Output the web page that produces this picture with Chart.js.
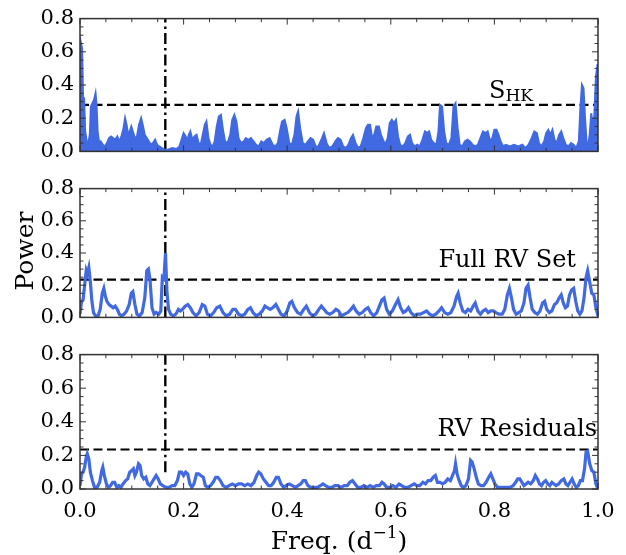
<!DOCTYPE html>
<html>
<head>
<meta charset="utf-8">
<script src="https://cdn.jsdelivr.net/npm/chart.js@4.4.1/dist/chart.umd.min.js"></script>
<style>
  body { margin: 0; background: #fff; }
  #wrap { position: relative; width: 626px; height: 555px; }
  canvas { position: absolute; left: 0; }
</style>
</head>
<body>
<div id="wrap">
  <canvas id="p1" width="626" height="170" style="top:0px"></canvas>
  <canvas id="p2" width="626" height="166" style="top:170px"></canvas>
  <canvas id="p3" width="626" height="219" style="top:336px"></canvas>
</div>
<script>
// S_HK periodogram
const shkFreq = [0.000,0.002,0.004,0.006,0.008,0.010,0.013,0.016,0.019,0.021,0.024,0.027,0.030,0.032,0.034,0.037,0.040,0.044,0.048,0.052,
  0.056,0.060,0.064,0.068,0.072,0.076,0.080,0.084,0.087,0.090,0.093,0.096,0.099,0.102,0.106,0.110,0.114,0.118,0.121,0.125,
  0.129,0.133,0.137,0.141,0.145,0.149,0.153,0.158,0.163,0.170,0.178,0.186,0.192,0.196,0.200,0.204,0.207,0.210,0.213,0.217,
  0.221,0.225,0.229,0.233,0.237,0.241,0.244,0.248,0.252,0.256,0.260,0.264,0.268,0.272,0.276,0.280,0.285,0.290,0.294,0.298,
  0.302,0.306,0.311,0.316,0.320,0.325,0.330,0.335,0.340,0.345,0.350,0.355,0.360,0.366,0.372,0.377,0.382,0.386,0.390,0.395,
  0.399,0.404,0.409,0.414,0.418,0.421,0.425,0.430,0.435,0.440,0.445,0.450,0.455,0.460,0.466,0.471,0.476,0.481,0.487,0.493,
  0.498,0.503,0.508,0.513,0.518,0.523,0.527,0.532,0.537,0.542,0.547,0.552,0.556,0.560,0.564,0.568,0.572,0.577,0.581,0.585,
  0.589,0.594,0.598,0.602,0.606,0.610,0.614,0.618,0.623,0.628,0.633,0.637,0.641,0.646,0.651,0.656,0.661,0.666,0.670,0.674,
  0.678,0.683,0.688,0.692,0.695,0.699,0.703,0.707,0.712,0.717,0.721,0.725,0.729,0.733,0.738,0.743,0.748,0.753,0.758,0.763,
  0.768,0.773,0.778,0.783,0.787,0.792,0.796,0.800,0.804,0.808,0.812,0.817,0.822,0.830,0.838,0.846,0.854,0.860,0.866,0.872,
  0.877,0.882,0.886,0.891,0.896,0.900,0.904,0.908,0.912,0.916,0.920,0.925,0.929,0.933,0.938,0.943,0.948,0.953,0.958,0.963,
  0.966,0.969,0.972,0.975,0.978,0.981,0.984,0.987,0.990,0.993,0.996,0.999,1.000];
const shkPower = [0.05,0.65,0.62,0.30,0.31,0.12,0.06,0.05,0.10,0.27,0.29,0.31,0.35,0.28,0.12,0.05,0.06,0.04,0.03,0.05,
  0.08,0.09,0.08,0.07,0.09,0.06,0.09,0.14,0.20,0.16,0.10,0.12,0.15,0.12,0.08,0.09,0.16,0.20,0.16,0.10,
  0.08,0.06,0.04,0.05,0.07,0.04,0.03,0.02,0.01,0.01,0.02,0.015,0.03,0.07,0.11,0.09,0.06,0.10,0.12,0.07,
  0.09,0.10,0.05,0.04,0.10,0.16,0.18,0.08,0.04,0.03,0.06,0.15,0.21,0.22,0.13,0.06,0.05,0.10,0.19,0.22,
  0.18,0.08,0.05,0.06,0.08,0.07,0.08,0.06,0.04,0.03,0.06,0.05,0.07,0.08,0.04,0.03,0.05,0.12,0.18,0.19,
  0.14,0.05,0.04,0.10,0.21,0.24,0.14,0.05,0.04,0.06,0.08,0.07,0.03,0.03,0.07,0.11,0.05,0.02,0.03,0.06,
  0.08,0.07,0.03,0.02,0.04,0.08,0.10,0.05,0.02,0.03,0.08,0.14,0.16,0.16,0.08,0.10,0.15,0.15,0.10,0.07,
  0.04,0.08,0.17,0.19,0.17,0.19,0.09,0.04,0.03,0.05,0.09,0.10,0.05,0.03,0.04,0.03,0.07,0.12,0.11,0.12,
  0.07,0.05,0.04,0.12,0.28,0.27,0.12,0.05,0.04,0.08,0.27,0.29,0.14,0.04,0.03,0.06,0.07,0.06,0.04,0.03,
  0.04,0.08,0.12,0.11,0.12,0.06,0.08,0.13,0.13,0.10,0.06,0.03,0.04,0.03,0.04,0.03,0.04,0.02,0.04,0.08,
  0.12,0.11,0.05,0.03,0.06,0.11,0.13,0.10,0.13,0.07,0.05,0.10,0.12,0.08,0.04,0.03,0.05,0.04,0.02,0.06,
  0.26,0.40,0.38,0.20,0.05,0.04,0.10,0.23,0.14,0.22,0.45,0.52,0.52];

// full RV set periodogram
const rvFreq = [0.000,0.003,0.006,0.009,0.012,0.014,0.017,0.020,0.023,0.026,0.030,0.035,0.039,0.043,0.046,0.049,0.052,0.056,0.060,0.064,
  0.068,0.072,0.076,0.080,0.085,0.090,0.095,0.099,0.102,0.106,0.110,0.115,0.120,0.125,0.129,0.132,0.135,0.139,0.143,0.147,
  0.152,0.156,0.159,0.162,0.165,0.168,0.171,0.175,0.180,0.185,0.190,0.194,0.198,0.203,0.208,0.213,0.218,0.224,0.230,0.236,
  0.241,0.246,0.252,0.258,0.264,0.270,0.276,0.282,0.289,0.295,0.300,0.306,0.312,0.318,0.324,0.329,0.334,0.340,0.346,0.352,
  0.357,0.362,0.367,0.372,0.378,0.383,0.388,0.394,0.400,0.405,0.409,0.414,0.420,0.426,0.432,0.437,0.443,0.449,0.455,0.461,
  0.466,0.471,0.476,0.482,0.488,0.494,0.499,0.505,0.511,0.517,0.523,0.528,0.533,0.539,0.545,0.551,0.556,0.561,0.567,0.573,
  0.578,0.583,0.587,0.592,0.597,0.603,0.609,0.614,0.619,0.624,0.629,0.634,0.639,0.645,0.651,0.657,0.663,0.669,0.675,0.681,
  0.687,0.693,0.698,0.704,0.710,0.716,0.722,0.727,0.730,0.734,0.739,0.744,0.749,0.754,0.759,0.763,0.768,0.773,0.778,0.783,
  0.788,0.793,0.798,0.803,0.809,0.815,0.820,0.825,0.829,0.833,0.837,0.842,0.847,0.852,0.857,0.861,0.865,0.869,0.873,0.878,
  0.883,0.888,0.893,0.897,0.901,0.906,0.911,0.916,0.920,0.925,0.929,0.933,0.937,0.941,0.945,0.949,0.953,0.957,0.961,0.965,
  0.969,0.973,0.977,0.980,0.984,0.988,0.992,0.996,1.000];
const rvPower = [0.02,0.10,0.11,0.20,0.29,0.27,0.31,0.22,0.10,0.03,0.01,0.01,0.05,0.15,0.18,0.13,0.10,0.08,0.07,0.06,
  0.07,0.05,0.02,0.01,0.02,0.04,0.08,0.15,0.16,0.08,0.02,0.01,0.03,0.12,0.29,0.30,0.24,0.06,0.02,0.03,
  0.02,0.04,0.25,0.24,0.40,0.15,0.05,0.02,0.01,0.02,0.05,0.04,0.05,0.07,0.08,0.06,0.03,0.01,0.03,0.08,
  0.07,0.02,0.01,0.03,0.06,0.07,0.03,0.01,0.02,0.05,0.05,0.02,0.01,0.02,0.05,0.06,0.03,0.01,0.02,0.04,
  0.07,0.06,0.05,0.06,0.08,0.05,0.02,0.01,0.04,0.09,0.10,0.06,0.03,0.02,0.05,0.07,0.03,0.01,0.02,0.05,
  0.07,0.05,0.03,0.02,0.03,0.05,0.04,0.01,0.02,0.03,0.05,0.07,0.04,0.02,0.03,0.05,0.06,0.03,0.01,0.03,
  0.07,0.11,0.12,0.05,0.02,0.04,0.08,0.11,0.06,0.03,0.04,0.06,0.03,0.01,0.02,0.02,0.03,0.04,0.02,0.01,
  0.02,0.04,0.06,0.03,0.02,0.03,0.07,0.13,0.15,0.09,0.04,0.03,0.05,0.04,0.07,0.09,0.04,0.02,0.04,0.05,
  0.03,0.04,0.04,0.03,0.02,0.02,0.05,0.14,0.18,0.12,0.05,0.02,0.03,0.04,0.09,0.18,0.20,0.12,0.05,0.03,
  0.02,0.04,0.09,0.10,0.05,0.03,0.04,0.08,0.09,0.12,0.14,0.09,0.06,0.07,0.14,0.17,0.18,0.10,0.04,0.02,
  0.04,0.12,0.25,0.29,0.22,0.15,0.14,0.06,0.01];

// RV residuals periodogram
const resFreq = [0.000,0.003,0.006,0.009,0.012,0.014,0.017,0.020,0.024,0.028,0.033,0.038,0.042,0.044,0.047,0.051,0.055,0.059,0.063,0.067,
  0.071,0.075,0.079,0.083,0.088,0.092,0.096,0.100,0.103,0.106,0.109,0.113,0.116,0.119,0.123,0.127,0.131,0.135,0.139,0.143,
  0.147,0.151,0.155,0.160,0.166,0.172,0.178,0.183,0.188,0.192,0.196,0.200,0.204,0.208,0.212,0.216,0.220,0.225,0.229,0.233,
  0.238,0.242,0.247,0.252,0.257,0.262,0.266,0.271,0.276,0.282,0.288,0.294,0.300,0.306,0.312,0.318,0.324,0.330,0.336,0.341,
  0.345,0.349,0.354,0.359,0.364,0.369,0.374,0.379,0.383,0.388,0.393,0.398,0.404,0.410,0.416,0.421,0.426,0.431,0.435,0.440,
  0.446,0.452,0.458,0.464,0.469,0.474,0.480,0.486,0.492,0.498,0.504,0.510,0.516,0.521,0.526,0.531,0.536,0.542,0.548,0.554,
  0.560,0.566,0.572,0.578,0.583,0.587,0.592,0.598,0.604,0.610,0.616,0.621,0.627,0.633,0.639,0.645,0.650,0.656,0.662,0.667,
  0.672,0.677,0.682,0.686,0.690,0.695,0.700,0.705,0.710,0.715,0.719,0.723,0.725,0.728,0.732,0.736,0.740,0.745,0.750,0.754,
  0.757,0.761,0.765,0.769,0.774,0.779,0.784,0.789,0.793,0.797,0.801,0.806,0.812,0.818,0.824,0.830,0.836,0.841,0.845,0.849,
  0.853,0.857,0.861,0.865,0.870,0.875,0.879,0.883,0.887,0.891,0.895,0.899,0.903,0.907,0.911,0.915,0.919,0.924,0.929,0.934,
  0.938,0.942,0.946,0.950,0.954,0.958,0.962,0.966,0.970,0.974,0.977,0.980,0.984,0.988,0.992,0.996,1.000];
const resPower = [0.02,0.09,0.10,0.13,0.19,0.21,0.18,0.10,0.05,0.01,0.01,0.04,0.11,0.13,0.08,0.03,0.01,0.02,0.04,0.04,
  0.01,0.02,0.01,0.03,0.05,0.06,0.10,0.11,0.12,0.08,0.10,0.15,0.14,0.08,0.06,0.07,0.03,0.02,0.04,0.06,
  0.08,0.06,0.03,0.02,0.01,0.01,0.02,0.02,0.05,0.10,0.10,0.08,0.10,0.09,0.03,0.01,0.03,0.09,0.09,0.08,
  0.07,0.02,0.01,0.02,0.04,0.07,0.07,0.05,0.02,0.01,0.02,0.03,0.02,0.03,0.03,0.02,0.03,0.02,0.04,0.08,
  0.10,0.09,0.06,0.04,0.02,0.02,0.04,0.07,0.07,0.03,0.01,0.02,0.03,0.02,0.01,0.02,0.03,0.05,0.05,0.02,
  0.01,0.01,0.01,0.02,0.03,0.02,0.01,0.01,0.02,0.02,0.01,0.02,0.02,0.04,0.05,0.03,0.01,0.01,0.02,0.01,
  0.02,0.01,0.02,0.02,0.04,0.03,0.01,0.01,0.02,0.01,0.03,0.02,0.01,0.01,0.02,0.03,0.02,0.02,0.04,0.03,
  0.05,0.05,0.07,0.08,0.04,0.04,0.03,0.04,0.06,0.05,0.08,0.11,0.15,0.09,0.05,0.02,0.01,0.02,0.06,0.17,
  0.16,0.12,0.07,0.03,0.02,0.02,0.04,0.07,0.09,0.06,0.03,0.01,0.01,0.01,0.01,0.01,0.02,0.04,0.06,0.06,
  0.04,0.02,0.03,0.04,0.03,0.05,0.08,0.06,0.03,0.02,0.04,0.05,0.03,0.02,0.04,0.03,0.02,0.03,0.05,0.06,
  0.03,0.02,0.04,0.06,0.03,0.01,0.02,0.05,0.05,0.12,0.22,0.225,0.15,0.11,0.10,0.03,0.00];

// significance thresholds and the marked frequency
const thresholds = [0.28, 0.235, 0.235];
const markFreq = 0.1647;
const markBottom = [0, 0, 0.1];
const yTicks = [0, 0.2, 0.4, 0.6, 0.8];
const xTicks = [0, 0.2, 0.4, 0.6, 0.8, 1.0];

const FONT = '"DejaVu Serif", serif';
const BLUE = '#4169e1';

function drawRuns(ctx, t) {
  ctx.save();
  let w = 0;
  t.runs.forEach(r => {
    ctx.font = r.size + 'px ' + FONT;
    r.w = ctx.measureText(r.s).width;
    w += r.w;
  });
  ctx.translate(t.x, t.y);
  if (t.rotate) ctx.rotate(t.rotate);
  let cx = t.align === 'center' ? -w / 2 : t.align === 'right' ? -w : 0;
  ctx.fillStyle = '#000';
  ctx.textAlign = 'left';
  ctx.textBaseline = 'alphabetic';
  t.runs.forEach(r => {
    ctx.font = r.size + 'px ' + FONT;
    ctx.fillText(r.s, cx, r.dy || 0);
    cx += r.w;
  });
  ctx.restore();
}

const framePlugin = {
  id: 'frame',
  afterDatasetsDraw(chart, args, opts) {
    const { ctx, chartArea: a, scales: { x, y } } = chart;
    ctx.save();
    ctx.strokeStyle = '#333';
    ctx.lineWidth = 1;
    ctx.beginPath();
    for (let i = 0; i <= 20; i++) {
      const px = x.getPixelForValue(i * 0.05);
      const len = i % 4 === 0 ? 6 : 3.5;
      ctx.moveTo(px, a.bottom); ctx.lineTo(px, a.bottom - len);
      ctx.moveTo(px, a.top); ctx.lineTo(px, a.top + len);
    }
    for (let i = 0; i <= 16; i++) {
      const py = y.getPixelForValue(i * 0.05);
      const len = i % 4 === 0 ? 6 : 3.5;
      ctx.moveTo(a.left, py); ctx.lineTo(a.left + len, py);
      ctx.moveTo(a.right, py); ctx.lineTo(a.right - len, py);
    }
    ctx.stroke();
    ctx.lineWidth = 1.5;
    ctx.strokeRect(a.left, a.top, a.right - a.left, a.bottom - a.top);
    ctx.restore();
    (opts.texts || []).forEach(t => drawRuns(ctx, t));
  }
};

function makePanel(id, idx, freq, power, cfg) {
  const pts = freq.map((f, i) => ({ x: f, y: power[i] }));
  const thr = thresholds[idx];
  new Chart(document.getElementById(id), {
    type: 'line',
    data: {
      datasets: [
        {
          data: pts, borderColor: BLUE, backgroundColor: BLUE,
          borderWidth: cfg.lineWidth, fill: cfg.fill ? 'origin' : false,
          pointRadius: 0, tension: 0, order: 0
        },
        {
          data: [{ x: 0, y: thr }, { x: 1, y: thr }], borderColor: '#000',
          borderWidth: 2.2, borderDash: [9, 4.5], pointRadius: 0, fill: false, order: 1
        },
        {
          data: [{ x: markFreq, y: markBottom[idx] }, { x: markFreq, y: 0.8 }], borderColor: '#000',
          borderWidth: 2.4, borderDash: [11, 4, 2.5, 4], pointRadius: 0, fill: false, order: 2
        }
      ]
    },
    options: {
      responsive: false,
      animation: false,
      events: [],
      layout: { padding: cfg.padding },
      plugins: { legend: { display: false }, tooltip: { enabled: false }, frame: { texts: cfg.texts } },
      scales: {
        x: {
          type: 'linear', min: 0, max: 1,
          display: cfg.showX,
          afterBuildTicks: s => { s.ticks = xTicks.map(v => ({ value: v })); },
          afterFit: s => { s.height = cfg.xHeight || 0; },
          grid: { display: false, drawTicks: false },
          border: { display: false },
          ticks: {
            autoSkip: false, maxRotation: 0, padding: 10, color: '#000',
            font: { family: FONT, size: 21 },
            callback: v => Number(v).toFixed(1)
          }
        },
        y: {
          min: 0, max: 0.8,
          afterBuildTicks: s => { s.ticks = yTicks.map(v => ({ value: v })); },
          afterFit: s => { s.width = 80; },
          grid: { display: false, drawTicks: false },
          border: { display: false },
          ticks: {
            padding: 6, color: '#000',
            font: { family: FONT, size: 21 },
            callback: v => Number(v).toFixed(1)
          }
        }
      }
    },
    plugins: [framePlugin]
  });
}

makePanel('p1', 0, shkFreq, shkPower, {
  lineWidth: 2, fill: true, showX: false,
  padding: { left: 0, right: 28, top: 15, bottom: 18 },
  texts: [{ x: 489, y: 98, align: 'left', runs: [{ s: 'S', size: 24 }, { s: 'HK', size: 17, dy: 3 }] }]
});

makePanel('p2', 1, rvFreq, rvPower, {
  lineWidth: 3.2, fill: false, showX: false,
  padding: { left: 0, right: 28, top: 14, bottom: 15 },
  texts: [
    { x: 576, y: 97, align: 'right', runs: [{ s: 'Full RV Set', size: 24 }] },
    { x: 33, y: 81, align: 'center', rotate: -Math.PI / 2, runs: [{ s: 'Power', size: 25 }] }
  ]
});

makePanel('p3', 2, resFreq, resPower, {
  lineWidth: 3.2, fill: false, showX: true, xHeight: 66,
  padding: { left: 0, right: 28, top: 16, bottom: 0 },
  texts: [
    { x: 597, y: 100, align: 'right', runs: [{ s: 'RV Residuals', size: 24 }] },
    { x: 339, y: 213, align: 'center', runs: [{ s: 'Freq. (d', size: 25 }, { s: '\u22121', size: 17, dy: -11 }, { s: ')', size: 25 }] }
  ]
});
</script>
</body>
</html>
